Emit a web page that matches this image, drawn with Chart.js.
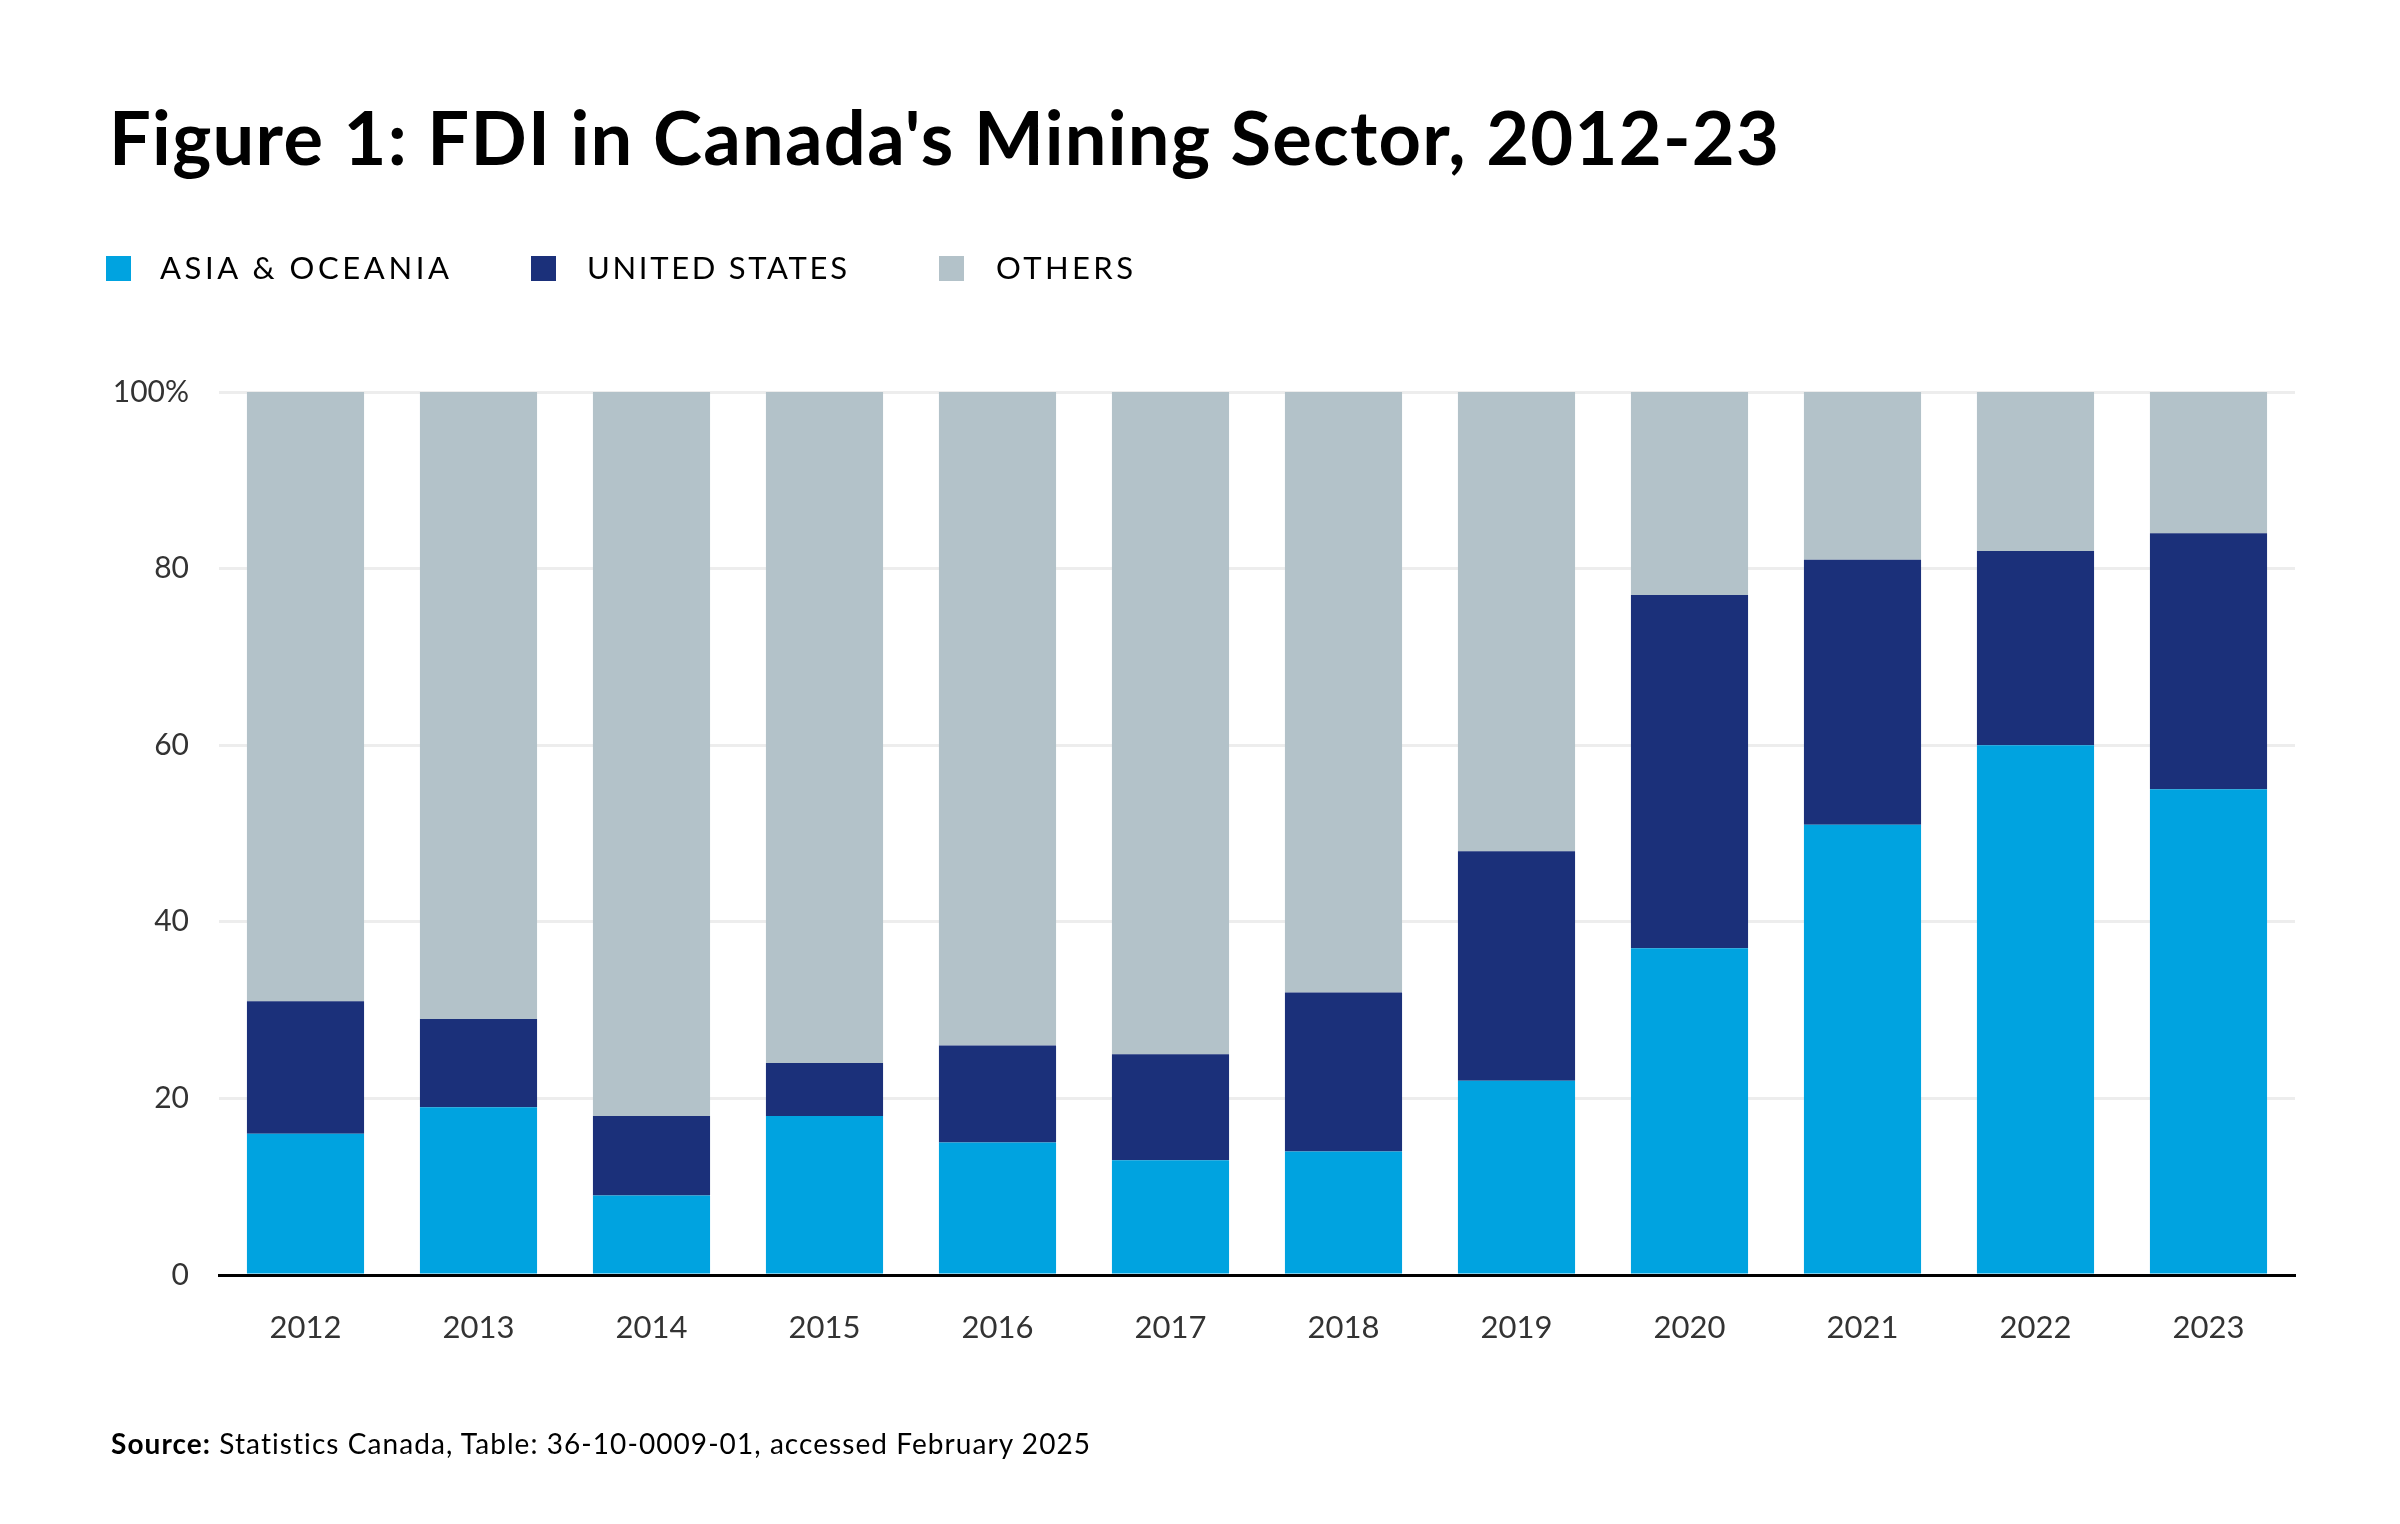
<!DOCTYPE html>
<html>
<head>
<meta charset="utf-8">
<script src="https://cdn.jsdelivr.net/npm/chart.js@4.4.1/dist/chart.umd.min.js"></script>
<style>
  html, body { margin: 0; padding: 0; background: #ffffff; }
  #page { position: relative; width: 2400px; height: 1524px; overflow: hidden; background: #fff; }
  #chart { position: absolute; left: 0; top: 0; }
  .txt { position: absolute; font-family: Lato, "Noto Sans", sans-serif; white-space: nowrap; line-height: 1.2; color: #000; z-index: 2; }
  #title { left: 109px; top: 93px; font-size: 74px; font-weight: 700; }
  .leg { position: absolute; z-index: 2; }
  .sw { position: absolute; width: 25px; height: 25px; top: 256px; }
  .lt { top: 249px; font-size: 31px; font-weight: 400; }
  #source { left: 111px; top: 1427px; font-size: 28px; font-weight: 400; }
  #source b { font-weight: 700; }
</style>
</head>
<body>
<div id="page">
  <canvas id="chart" width="2400" height="1524"></canvas>
  <div id="title" class="txt">Figure 1: FDI in Canada's Mining Sector, 2012-23</div>
  <div class="sw" id="sw0" style="left:106px;"></div>
  <div class="txt lt" id="lt0" style="left:160px;"></div>
  <div class="sw" id="sw1" style="left:531px;"></div>
  <div class="txt lt" id="lt1" style="left:587px;"></div>
  <div class="sw" id="sw2" style="left:939px;"></div>
  <div class="txt lt" id="lt2" style="left:996px;"></div>
  <div id="source" class="txt"><b>Source:</b> Statistics Canada, Table: 36-10-0009-01, accessed February 2025</div>
</div>
<script>
// ---- Data ----
const years = ["2012","2013","2014","2015","2016","2017","2018","2019","2020","2021","2022","2023"];
const seriesNames = ["ASIA & OCEANIA", "UNITED STATES", "OTHERS"];
const asiaOceania = [16, 19, 9, 18, 15, 13, 14, 22, 37, 51, 60, 55];
const unitedStates = [15, 10, 9, 6, 11, 12, 18, 26, 40, 30, 22, 29];
const others = [69, 71, 82, 76, 74, 75, 68, 52, 23, 19, 18, 16];
const yTicks = [0, 20, 40, 60, 80, 100];

const colors = ["#00A3E0", "#1B307A", "#B3C2C9"];

// legend text + swatches
const legendWidths = [289, 260, 137];
seriesNames.forEach((n, i) => {
  document.getElementById('sw' + i).style.background = colors[i];
  const el = document.getElementById('lt' + i);
  el.textContent = n;
});

function fitSpacing(el, target) {
  el.style.letterSpacing = '0px';
  const w = el.getBoundingClientRect().width;
  const n = el.textContent.length;
  const ls = (target - w) / Math.max(1, n - 1);
  el.style.letterSpacing = ls + 'px';
}

Chart.defaults.font.family = 'Lato, "Noto Sans", sans-serif';

const ctx = document.getElementById('chart').getContext('2d');
new Chart(ctx, {
  type: 'bar',
  data: {
    labels: years,
    datasets: [
      { label: seriesNames[0], data: asiaOceania, backgroundColor: colors[0] },
      { label: seriesNames[1], data: unitedStates, backgroundColor: colors[1] },
      { label: seriesNames[2], data: others, backgroundColor: colors[2] }
    ]
  },
  options: {
    responsive: false,
    animation: false,
    devicePixelRatio: 1,
    layout: { padding: { left: 0, right: 105, top: 392, bottom: 129 } },
    datasets: { bar: { categoryPercentage: 1.0, barPercentage: 0.677, borderWidth: 0 } },
    plugins: {
      legend: { display: false },
      title: { display: false },
      tooltip: { enabled: false }
    },
    scales: {
      x: {
        stacked: true,
        grid: { display: false, drawTicks: false },
        border: { display: true, color: '#000000', width: 3 },
        ticks: { color: '#333333', font: { size: 31, weight: 400 }, padding: 34, maxRotation: 0 },
        afterFit: (s) => { s.height = 120; }
      },
      y: {
        stacked: true,
        min: 0,
        max: 100,
        afterBuildTicks: (s) => { s.ticks = yTicks.map(v => ({ value: v })); },
        grid: { color: (c) => c.tick && c.tick.value === 0 ? 'rgba(0,0,0,0)' : '#EDEDED', lineWidth: 3, drawTicks: false },
        border: { display: false },
        ticks: {
          color: '#333333',
          font: { size: 30, weight: 400 },
          padding: 30,
          callback: (v) => v === 100 ? '100%' : String(v)
        },
        afterFit: (s) => { s.width = 219; }
      }
    }
  }
});

function fitAll() {
  legendWidths.forEach((w, i) => fitSpacing(document.getElementById('lt' + i), w));
  fitSpacing(document.getElementById('title'), 1670);
  fitSpacing(document.getElementById('source'), 980);
}
if (document.fonts && document.fonts.ready) { document.fonts.ready.then(fitAll); } else { fitAll(); }
fitAll();
</script>
</body>
</html>
